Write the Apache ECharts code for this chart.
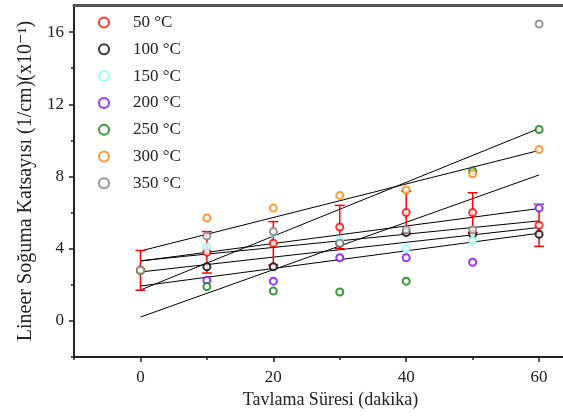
<!DOCTYPE html>
<html>
<head>
<meta charset="utf-8">
<script src="https://cdn.jsdelivr.net/npm/echarts@6/dist/echarts.min.js"></script>
<style>
  html, body { margin: 0; padding: 0; background: #fff; }
  #chart { width: 563px; height: 417px; }
</style>
</head>
<body>
<div id="chart"></div>
<script>
// Annealing time (minutes)
const minutes = [0, 10, 20, 30, 40, 50, 60];

// Linear attenuation coefficient (1/cm, x10^-1) per annealing temperature
const t50  = [2.8, 3.8, 4.3, 5.2, 6.0, 6.0, 5.3];
const t50Err = [1.1, 1.15, 1.2, 1.2, 1.18, 1.1, 1.17];
const t100 = [2.8, 3.0, 3.0, 4.3, 4.9, 4.8, 4.8];
const t150 = [2.8, 4.1, 4.9, 4.5, 4.0, 4.45, 6.3];
const t200 = [2.8, 2.25, 2.2, 3.5, 3.5, 3.25, 6.25];
const t250 = [2.8, 1.9, 1.65, 1.6, 2.2, 8.3, 10.6];
const t300 = [2.8, 5.7, 6.25, 6.95, 7.25, 8.15, 9.5];
const t350 = [2.8, 4.7, 4.95, 4.3, 5.05, 5.05, 16.45];

const seriesNames  = ['50 °C', '100 °C', '150 °C', '200 °C', '250 °C', '300 °C', '350 °C'];
const seriesValues = [t50, t100, t150, t200, t250, t300, t350];
const seriesColors = ['#ff0000', '#000000', '#80ffff', '#8000ff', '#008000', '#ff8000', '#808080'];

// Axis ticks
const xTicks = [0, 20, 40, 60];
const xMinorTicks = [-10, 10, 30, 50];
const yTicks = [0, 4, 8, 12, 16];
const yMinorTicks = [-2, 2, 6, 10, 14];

// Least-squares straight line through one temperature's measurements
function linearFit(xs, ys) {
  const n = xs.length;
  const mx = xs.reduce((a, b) => a + b, 0) / n;
  const my = ys.reduce((a, b) => a + b, 0) / n;
  let sxy = 0, sxx = 0;
  for (let i = 0; i < n; i++) {
    sxy += (xs[i] - mx) * (ys[i] - my);
    sxx += (xs[i] - mx) * (xs[i] - mx);
  }
  const slope = sxy / sxx;
  return { intercept: my - slope * mx, slope: slope };
}

const serif = '"Liberation Serif", "DejaVu Serif", serif';
const axisColor = '#222';

const fitSeries = seriesValues.map((ys, i) => {
  const f = linearFit(minutes, ys);
  const x0 = minutes[0], x1 = minutes[minutes.length - 1];
  return {
    name: 'fit ' + seriesNames[i],
    type: 'line',
    data: [[x0, f.intercept + f.slope * x0], [x1, f.intercept + f.slope * x1]],
    symbol: 'none',
    lineStyle: { color: '#000', width: 1 },
    z: 1,
    silent: true,
    animation: false
  };
});

const errorSeries = {
  name: 'err 50',
  type: 'custom',
  data: minutes.map((m, i) => [m, t50[i] - t50Err[i], t50[i] + t50Err[i]]),
  renderItem: function (params, api) {
    const x = api.value(0);
    const lo = api.coord([x, api.value(1)]);
    const hi = api.coord([x, api.value(2)]);
    const w = 5;
    const style = { stroke: '#ff0000', lineWidth: 1.5 };
    return {
      type: 'group',
      children: [
        { type: 'line', shape: { x1: lo[0], y1: lo[1], x2: hi[0], y2: hi[1] }, style: style },
        { type: 'line', shape: { x1: hi[0] - w, y1: hi[1], x2: hi[0] + w, y2: hi[1] }, style: style },
        { type: 'line', shape: { x1: lo[0] - w, y1: lo[1], x2: lo[0] + w, y2: lo[1] }, style: style }
      ]
    };
  },
  z: 2,
  silent: true,
  animation: false
};

const scatterSeries = seriesValues.map((ys, i) => ({
  name: seriesNames[i],
  type: 'scatter',
  data: minutes.map((m, k) => [m, ys[k]]),
  symbol: 'emptyCircle',
  symbolSize: 7,
  itemStyle: { color: seriesColors[i], borderColor: seriesColors[i], borderWidth: 2.5 },
  z: 3,
  animation: false
}));

const xRange = { min: -10, max: 63.6 };
const yRange = { min: -2, max: 17.5 };

const option = {
  backgroundColor: '#fff',
  animation: false,
  grid: { left: 74, right: 0, top: 5, bottom: 60 },
  legend: {
    data: seriesNames,
    orient: 'vertical',
    left: 93,
    top: 9,
    itemWidth: 10,
    itemHeight: 10,
    itemGap: 9.8,
    textStyle: { fontFamily: serif, fontSize: 17, color: '#222', padding: [0, 0, 0, 19] }
  },
  xAxis: [
    {
      type: 'value', position: 'bottom', min: xRange.min, max: xRange.max,
      splitLine: { show: false },
      axisLine: { show: true, onZero: false, lineStyle: { color: axisColor, width: 2 } },
      axisTick: { show: true, customValues: xTicks, length: 5, lineStyle: { color: axisColor, width: 1.5 } },
      axisLabel: { customValues: xTicks, fontFamily: serif, fontSize: 17, color: '#222', margin: 12 },
      name: 'Tavlama Süresi (dakika)',
      nameLocation: 'middle',
      nameGap: 34,
      nameTextStyle: { fontFamily: serif, fontSize: 18, color: '#222', padding: [0, 0, 0, 24] }
    },
    {
      type: 'value', position: 'bottom', min: xRange.min, max: xRange.max,
      splitLine: { show: false },
      axisLine: { show: false, onZero: false },
      axisTick: { show: true, customValues: xMinorTicks, length: 3, lineStyle: { color: axisColor, width: 1.5 } },
      axisLabel: { show: false }
    },
    {
      type: 'value', position: 'top', min: xRange.min, max: xRange.max,
      splitLine: { show: false },
      axisLine: { show: true, onZero: false, lineStyle: { color: '#555', width: 3 } },
      axisTick: { show: false },
      axisLabel: { show: false }
    }
  ],
  yAxis: [
    {
      type: 'value', position: 'left', min: yRange.min, max: yRange.max,
      splitLine: { show: false },
      axisLine: { show: true, onZero: false, lineStyle: { color: axisColor, width: 2 } },
      axisTick: { show: true, customValues: yTicks, length: 5, lineStyle: { color: axisColor, width: 1.5 } },
      axisLabel: { customValues: yTicks, fontFamily: serif, fontSize: 17, color: '#222', margin: 10 },
      name: 'Lineer Soğuma Katsayısı (1/cm)(x10⁻¹)',
      nameLocation: 'middle',
      nameGap: 36,
      nameTextStyle: { fontFamily: serif, fontSize: 20, color: '#222' }
    },
    {
      type: 'value', position: 'left', min: yRange.min, max: yRange.max,
      splitLine: { show: false },
      axisLine: { show: false, onZero: false },
      axisTick: { show: true, customValues: yMinorTicks, length: 3, lineStyle: { color: axisColor, width: 1.5 } },
      axisLabel: { show: false }
    }
  ],
  series: [].concat(fitSeries, [errorSeries], scatterSeries)
};

const chart = echarts.init(document.getElementById('chart'), null, { renderer: 'canvas' });
chart.setOption(option);
</script>
</body>
</html>
